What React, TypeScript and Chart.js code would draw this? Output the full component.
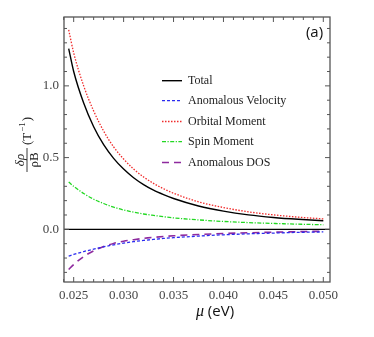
import React, { useEffect, useRef } from "react";
import { Chart, registerables } from "chart.js";

Chart.register(...registerables);

// chemical potential (eV)
const MU = [0.0245, 0.025, 0.026, 0.027, 0.028, 0.029, 0.030, 0.031, 0.032, 0.033, 0.034, 0.035, 0.0375, 0.040, 0.0425, 0.045, 0.0475, 0.050];
const TOTAL = [1.26, 1.10, 0.88, 0.715, 0.59, 0.495, 0.42, 0.36, 0.312, 0.273, 0.242, 0.215, 0.163, 0.127, 0.101, 0.083, 0.07, 0.06];
const ANOM_VEL = [-0.186, -0.175, -0.155, -0.138, -0.122, -0.108, -0.096, -0.086, -0.077, -0.07, -0.063, -0.058, -0.047, -0.038, -0.031, -0.026, -0.021, -0.018];
const ORBITAL = [1.39, 1.23, 1.0, 0.825, 0.685, 0.575, 0.49, 0.42, 0.365, 0.32, 0.283, 0.252, 0.192, 0.152, 0.122, 0.101, 0.085, 0.073];
const SPIN = [0.33, 0.30, 0.25, 0.21, 0.18, 0.155, 0.135, 0.12, 0.107, 0.097, 0.088, 0.08, 0.066, 0.055, 0.047, 0.041, 0.036, 0.032];
const ANOM_DOS = [-0.28, -0.245, -0.19, -0.15, -0.12, -0.098, -0.083, -0.072, -0.063, -0.056, -0.05, -0.045, -0.036, -0.029, -0.024, -0.02, -0.016, -0.013];

const SERIES_NAMES = ["Total", "Anomalous Velocity", "Orbital Moment", "Spin Moment", "Anomalous DOS"];
const X_TICKS = [0.025, 0.030, 0.035, 0.040, 0.045, 0.050];
const Y_TICKS = [0.0, 0.5, 1.0];
const X_MIN = 0.02403, X_MAX = 0.05067;
const Y_MIN = -0.367, Y_MAX = 1.48;

const SERIF = "'Liberation Serif', 'DejaVu Serif', serif";
const SANS = "'Open Sans', 'Liberation Sans', sans-serif";

export default function App() {
  const ref = useRef<HTMLCanvasElement | null>(null);
  useEffect(() => {
    const pts = (arr: number[]) => MU.map((x, i) => ({ x, y: arr[i] }));
    const styles = [
      { color: "#000000", dash: [] as number[], width: 1.4 },
      { color: "#2b2bf0", dash: [3, 2], width: 1.3 },
      { color: "#f02b2b", dash: [1.5, 1.5], width: 1.3 },
      { color: "#22d822", dash: [4, 1.5, 1.2, 1.5], width: 1.3 },
      { color: "#8e2a9e", dash: [7, 5], width: 1.6 },
    ];
    const series = [TOTAL, ANOM_VEL, ORBITAL, SPIN, ANOM_DOS];
    const datasets = series.map((s, i) => ({
      label: SERIES_NAMES[i],
      data: pts(s),
      borderColor: styles[i].color,
      borderDash: styles[i].dash,
      borderWidth: styles[i].width,
      pointRadius: 0,
      fill: false,
      cubicInterpolationMode: "monotone" as const,
    }));

    const frame = {
      id: "frame",
      beforeDatasetsDraw(chart: any) {
        const { ctx, chartArea: a, scales } = chart;
        const y0 = scales.y.getPixelForValue(0);
        ctx.save();
        ctx.strokeStyle = "#000";
        ctx.lineWidth = 1.4;
        ctx.beginPath();
        ctx.moveTo(a.left, y0);
        ctx.lineTo(a.right, y0);
        ctx.stroke();
        ctx.restore();
      },
      afterDraw(chart: any) {
        const { ctx, chartArea: a, scales } = chart;
        ctx.save();
        ctx.strokeStyle = "#555";
        ctx.lineWidth = 1.3;
        ctx.strokeRect(a.left, a.top, a.right - a.left, a.bottom - a.top);
        ctx.lineWidth = 1;
        ctx.beginPath();
        for (let k = 24; k <= 50; k++) {
          const v = k / 1000;
          const px = scales.x.getPixelForValue(v);
          const len = k % 5 === 0 ? 5 : 3;
          ctx.moveTo(px, a.bottom); ctx.lineTo(px, a.bottom - len);
          ctx.moveTo(px, a.top); ctx.lineTo(px, a.top + len);
        }
        for (let k = -3; k <= 14; k++) {
          const v = k / 10;
          const py = scales.y.getPixelForValue(v);
          const len = k % 5 === 0 ? 5 : 3;
          ctx.moveTo(a.left, py); ctx.lineTo(a.left + len, py);
          ctx.moveTo(a.right, py); ctx.lineTo(a.right - len, py);
        }
        ctx.stroke();

        // legend
        const lx0 = 162, lx1 = 182, tx = 188;
        const rows = [80.7, 100.7, 121.5, 141.7, 162.5];
        ctx.font = `12px ${SERIF}`;
        ctx.textBaseline = "middle";
        ctx.textAlign = "left";
        rows.forEach((ry, i) => {
          ctx.strokeStyle = styles[i].color;
          ctx.lineWidth = styles[i].width;
          ctx.setLineDash(styles[i].dash);
          ctx.beginPath();
          ctx.moveTo(lx0, ry); ctx.lineTo(lx1, ry);
          ctx.stroke();
          ctx.setLineDash([]);
          ctx.fillStyle = "#222";
          ctx.fillText(SERIES_NAMES[i], tx, ry + 0.5);
        });

        // panel label
        ctx.fillStyle = "#111";
        ctx.font = `15px ${SANS}`;
        ctx.textAlign = "center";
        ctx.fillText("(a)", 314.5, 32.5);

        // x title
        ctx.font = `italic 16px ${SERIF}`;
        const mu = "\u03bc";
        const rest = " (eV)";
        const w1 = ctx.measureText(mu).width;
        ctx.font = `15px ${SANS}`;
        const w2 = ctx.measureText(rest).width;
        let sx = 215 - (w1 + w2) / 2;
        ctx.textAlign = "left";
        ctx.font = `italic 16px ${SERIF}`;
        ctx.fillText(mu, sx, 312);
        ctx.font = `15px ${SANS}`;
        ctx.fillText(rest, sx + w1, 312);

        // y title (rotated fraction)
        ctx.translate(27, 145);
        ctx.rotate(-Math.PI / 2);
        ctx.fillStyle = "#222";
        ctx.font = `italic 13px ${SERIF}`;
        ctx.textAlign = "center";
        ctx.fillText("\u03b4\u03c1", -15, -6);
        ctx.font = `13px ${SERIF}`;
        ctx.fillText("\u03c1B", -15, 7.5);
        ctx.strokeStyle = "#222";
        ctx.lineWidth = 0.9;
        ctx.beginPath();
        ctx.moveTo(-27, 0); ctx.lineTo(-3, 0);
        ctx.stroke();
        ctx.font = `13px ${SERIF}`;
        ctx.textAlign = "left";
        ctx.fillText("(T", 0, 0.5);
        const wT = ctx.measureText("(T").width;
        ctx.font = `9px ${SERIF}`;
        ctx.fillText("\u22121", wT + 1, -4);
        const wS = ctx.measureText("\u22121").width;
        ctx.font = `13px ${SERIF}`;
        ctx.fillText(")", wT + 2 + wS, 0.5);
        ctx.restore();
      },
    };

    const chart = new Chart(ref.current as HTMLCanvasElement, {
      type: "line",
      data: { datasets },
      options: {
        animation: false,
        responsive: true,
        maintainAspectRatio: false,
        layout: { padding: { left: 0, top: 17, right: 44, bottom: 0 } },
        plugins: { legend: { display: false }, tooltip: { enabled: false } },
        scales: {
          x: {
            type: "linear",
            min: X_MIN,
            max: X_MAX,
            grid: { display: false, drawTicks: false },
            border: { display: false },
            afterBuildTicks: (s: any) => { s.ticks = X_TICKS.map((v) => ({ value: v })); },
            afterFit: (s: any) => { s.height = 55; },
            ticks: {
              padding: 6,
              maxRotation: 0,
              autoSkip: false,
              color: "#444",
              font: { family: "Liberation Serif", size: 13 },
              callback: (v: any) => Number(v).toFixed(3),
            },
          },
          y: {
            type: "linear",
            min: Y_MIN,
            max: Y_MAX,
            grid: { display: false, drawTicks: false },
            border: { display: false },
            afterBuildTicks: (s: any) => { s.ticks = Y_TICKS.map((v) => ({ value: v })); },
            afterFit: (s: any) => { s.width = 64; },
            ticks: {
              padding: 5,
              autoSkip: false,
              color: "#444",
              font: { family: "Liberation Serif", size: 13 },
              callback: (v: any) => Number(v).toFixed(1),
            },
          },
        },
      },
      plugins: [frame],
    });
    return () => chart.destroy();
  }, []);

  return (
    <div style={{ position: "fixed", left: 0, top: 0, width: 374, height: 337, background: "#fff" }}>
      <canvas ref={ref} />
    </div>
  );
}
